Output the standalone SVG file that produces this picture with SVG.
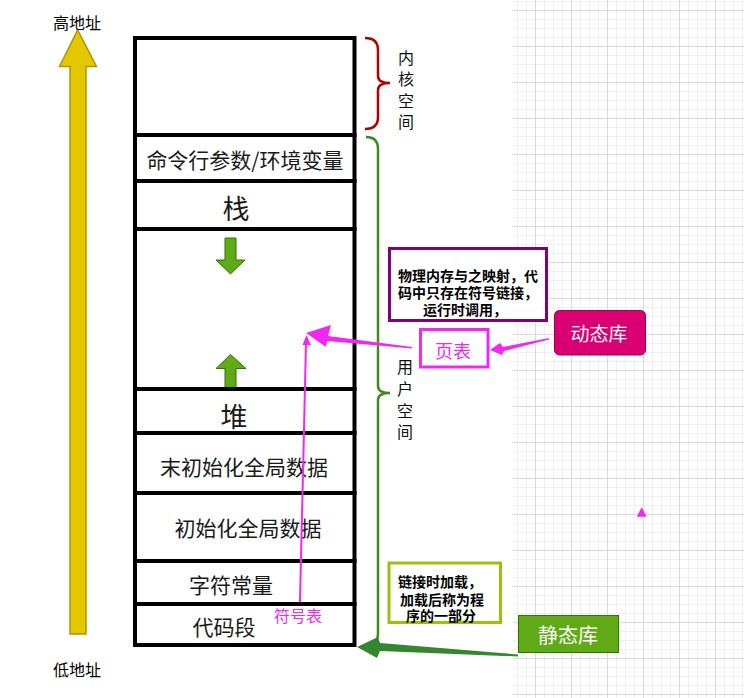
<svg xmlns="http://www.w3.org/2000/svg" width="744" height="698" viewBox="0 0 744 698">
<style>
.cjk{font-family:"Noto Sans CJK SC","Noto Sans",sans-serif;}
.seg{fill:#fff;stroke:#000;stroke-width:4;}
.lbl{font-size:21px;fill:#1a1a1a;text-anchor:middle;dominant-baseline:central;}
.big{font-size:27px;}
.side{font-size:16px;fill:#111;text-anchor:middle;dominant-baseline:central;}
.note{font-size:14px;font-weight:bold;fill:#000;text-anchor:middle;dominant-baseline:central;}
.garrow{fill:#60A917;stroke:#2D7600;stroke-width:1;}
</style>
<defs>
<pattern id="minor" width="9" height="9" patternUnits="userSpaceOnUse" x="535" y="10"><path d="M0,0.5 H9 M0.5,0 V9" stroke="#efefef" stroke-width="1" fill="none"/></pattern>
<pattern id="major" width="36" height="36" patternUnits="userSpaceOnUse" x="535" y="10"><path d="M0,0.5 H36 M0.5,0 V36" stroke="#d9d9d9" stroke-width="1" fill="none"/></pattern>
</defs>
<rect width="744" height="698" fill="#fff"/>
<g id="grid">
<rect x="513" y="0" width="231" height="698" fill="url(#minor)"/>
<rect x="513" y="0" width="231" height="698" fill="url(#major)"/>
</g>
<g id="addr-arrow">
<polygon points="77.7,30 96.5,66.5 86,66.5 86,634 70,634 70,66.5 59.5,66.5" fill="#E3C800" stroke="#B09500" stroke-width="1.5"/>
<text class="cjk" x="77" y="22" font-size="16" text-anchor="middle" dominant-baseline="central" fill="#000">高地址</text>
<text class="cjk" x="77" y="669" font-size="16" text-anchor="middle" dominant-baseline="central" fill="#000">低地址</text>
</g>
<g id="kernel"><rect class="seg" x="135" y="38" width="219.5" height="97"/></g>
<g id="cmdline"><rect class="seg" x="135" y="135" width="219.5" height="46"/><text class="cjk lbl" x="245" y="159">命令行参数/环境变量</text></g>
<g id="stack"><rect class="seg" x="135" y="181" width="219.5" height="48"/><text class="cjk lbl big" x="236" y="207">栈</text></g>
<g id="gap"><rect class="seg" x="135" y="229" width="219.5" height="160"/>
<polygon class="garrow" points="225,238 236,238 236,260 245,260 230.5,274 216,260 225,260"/>
<polygon class="garrow" points="230.5,354.5 246,368.5 236,368.5 236,389 225,389 225,368.5 216,368.5"/>
</g>
<g id="heap"><rect class="seg" x="135" y="389" width="219.5" height="44"/><text class="cjk lbl big" x="234" y="415">堆</text></g>
<g id="bss"><rect class="seg" x="135" y="433" width="219.5" height="60"/><text class="cjk lbl" x="244" y="466">末初始化全局数据</text></g>
<g id="data"><rect class="seg" x="135" y="493" width="219.5" height="68"/><text class="cjk lbl" x="248" y="527">初始化全局数据</text></g>
<g id="rodata"><rect class="seg" x="135" y="561" width="219.5" height="43"/><text class="cjk lbl" x="231" y="584">字符常量</text></g>
<g id="text"><rect class="seg" x="135" y="604" width="219.5" height="41"/><text class="cjk lbl" x="224" y="626">代码段</text></g>
<g id="kernel-brace">
<path d="M365,38 Q378,38 378,50 L378,76 Q378,83 390,83 Q378,83 378,90 L378,117 Q378,129 365,129" fill="none" stroke="#B20000" stroke-width="2.5"/>
<text class="cjk side" x="406" y="57">内</text><text class="cjk side" x="406" y="78">核</text><text class="cjk side" x="406" y="100">空</text><text class="cjk side" x="406" y="121">间</text>
</g>
<g id="user-brace">
<path d="M366,137 Q378,137 378,149 L378,386 Q378,393 390,393 Q378,393 378,400 L378,633 Q378,645 366,645" fill="none" stroke="#3F8A1A" stroke-width="2.5"/>
<text class="cjk side" x="405" y="366">用</text><text class="cjk side" x="405" y="388">户</text><text class="cjk side" x="405" y="410">空</text><text class="cjk side" x="405" y="431">间</text>
</g>
<g id="dyn-note">
<rect x="389.5" y="248.5" width="157" height="72" fill="#fff" stroke="#800080" stroke-width="3"/>
<text class="cjk note" x="468" y="275">物理内存与之映射，代</text>
<text class="cjk note" x="468" y="292">码中只存在符号链接，</text>
<text class="cjk note" x="465" y="308.5">运行时调用，</text>
</g>
<g id="static-note">
<rect x="389" y="563" width="111.5" height="59.5" fill="#fff" stroke="#99C20A" stroke-width="3"/>
<text class="cjk note" x="440" y="581">链接时加载，</text>
<text class="cjk note" x="442" y="598.5">加载后称为程</text>
<text class="cjk note" x="441" y="614.5">序的一部分</text>
</g>
<g id="pagetable">
<rect x="420.5" y="329.5" width="67.5" height="37.5" fill="#fff" stroke="#F028F0" stroke-width="3"/>
<text class="cjk" x="453" y="350" font-size="18" fill="#F028F0" text-anchor="middle" dominant-baseline="central">页表</text>
</g>
<g id="dynlib">
<rect x="554.5" y="310.5" width="91" height="44.5" rx="5" fill="#D80073" stroke="#A50040" stroke-width="1"/>
<text class="cjk" x="599" y="332" font-size="19" fill="#fff" text-anchor="middle" dominant-baseline="central">动态库</text>
</g>
<g id="staticlib">
<rect x="518.5" y="615.5" width="100" height="37" fill="#60A917" stroke="#2D7600" stroke-width="1"/>
<text class="cjk" x="568" y="634" font-size="20" fill="#fff" text-anchor="middle" dominant-baseline="central">静态库</text>
</g>
<g id="symtab-label">
<text class="cjk" x="298" y="615" font-size="16" fill="#F028F0" text-anchor="middle" dominant-baseline="central">符号表</text>
</g>
<g id="connectors">
<line x1="300" y1="602" x2="306" y2="343" stroke="#F028F0" stroke-width="2"/>
<polygon points="306.5,335 311,345 302.5,345" fill="#F028F0"/>
<polygon points="306,333 331,325 328,336 412,347 412,348.5 327,341 326,347" fill="#F028F0"/>
<polygon points="490,350 500,343 503,347 549,338 549,339.5 504,351 502,355" fill="#F028F0"/>
<polygon points="357,647 378,637 380,643 518,654.5 518,656.5 380,651 377,658" fill="#35862F"/>
<polygon points="641.7,507.3 646.7,516.7 636.7,516.7" fill="#F028F0"/>
</g>
</svg>
